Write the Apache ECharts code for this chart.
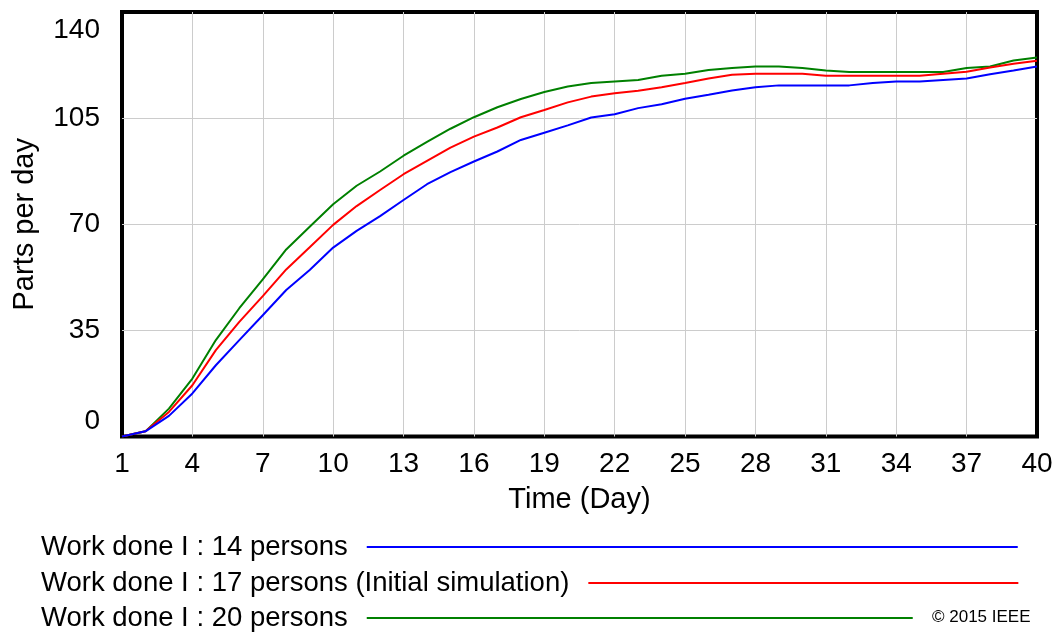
<!DOCTYPE html>
<html>
<head>
<meta charset="utf-8">
<script src="https://cdn.jsdelivr.net/npm/echarts@6/dist/echarts.min.js"></script>
<style>
html, body { margin: 0; padding: 0; background: #fff; }
#chart { width: 1060px; height: 632px; }
</style>
</head>
<body>
<div id="chart"></div>
<script>
// days on the time axis
const days = ['1','2','3','4','5','6','7','8','9','10','11','12','13','14','15','16','17','18','19','20',
    '21','22','23','24','25','26','27','28','29','30','31','32','33','34','35','36','37','38','39','40'];

// parts per day
const persons14 = [0, 1.7, 6.8, 14.2, 23.5, 31.8, 40, 48.3, 54.9, 62.3, 67.8, 72.7, 78, 83.2, 87.2, 90.7, 94, 97.8, 100.2, 102.6,
    105.2, 106.3, 108.3, 109.6, 111.4, 112.7, 114.1, 115.2, 115.8, 115.8, 115.8, 115.8, 116.6, 117.1, 117.1, 117.6, 118.1, 119.5, 120.7, 122];
const persons17 = [0, 1.7, 8.1, 16.9, 28.5, 37.8, 46.3, 55.1, 62.4, 69.8, 76, 81.3, 86.5, 90.9, 95.3, 98.9, 101.9, 105.3, 107.7, 110.2,
    112.1, 113.2, 114, 115.2, 116.6, 118.1, 119.3, 119.6, 119.6, 119.6, 119, 119, 119, 119, 119, 119.6, 120.3, 121.7, 122.9, 123.9];
const persons20 = [0, 1.7, 9.2, 19.1, 31.8, 42.3, 51.8, 61.7, 69.2, 76.6, 82.7, 87.4, 92.6, 97.2, 101.5, 105.3, 108.6, 111.3, 113.6, 115.4,
    116.6, 117.1, 117.6, 119, 119.6, 120.9, 121.5, 122, 122, 121.5, 120.7, 120.2, 120.2, 120.2, 120.2, 120.2, 121.5, 122, 124, 125];

const names = [
    'Work done I : 14 persons',
    'Work done I : 17 persons (Initial simulation)',
    'Work done I : 20 persons'
];

const font = "'Liberation Sans', Arial, Helvetica, sans-serif";
let myChart = echarts.init(document.getElementById('chart'));

// one legend per row so each line can have its own length
const legendRow = (name, top, width) => ({
    left: 41,
    top: top,
    padding: 0,
    align: 'right',
    orient: 'horizontal',
    selectedMode: false,
    itemWidth: width,
    itemHeight: 2,
    itemStyle: { borderWidth: 0 },
    textStyle: { fontSize: 27.5, fontFamily: font, color: '#000', padding: [0, 14, 0, 0] },
    data: [{ name: name, icon: 'rect' }]
});

let option = {
    animation: false,
    backgroundColor: '#fff',
    textStyle: { fontFamily: font },
    title: {
        text: '\u00a9 2015 IEEE',
        left: 932,
        top: 609,
        padding: 0,
        textStyle: { fontSize: 17, fontWeight: 'normal', fontFamily: font, color: '#000' }
    },
    legend: [
        legendRow(names[0], 533, 651),
        legendRow(names[1], 569, 430),
        legendRow(names[2], 604, 546)
    ],
    grid: {
        left: 122,
        right: 23,
        top: 12,
        bottom: 195.5,
        show: true,
        borderColor: '#000',
        borderWidth: 4
    },
    xAxis: {
        type: 'category',
        data: days,
        boundaryGap: false,
        name: 'Time (Day)',
        nameLocation: 'middle',
        nameGap: 49,
        nameTextStyle: { fontSize: 29, fontFamily: font, color: '#000' },
        axisLine: { show: false },
        axisTick: { show: false },
        axisLabel: { interval: 2, fontSize: 28, color: '#000', margin: 14, fontFamily: font },
        splitLine: {
            show: true, interval: 2, showMinLine: false, showMaxLine: false,
            lineStyle: { color: '#cccccc', width: 1 }
        }
    },
    yAxis: {
        type: 'value',
        min: 0,
        max: 140,
        interval: 35,
        name: 'Parts per day',
        nameLocation: 'middle',
        nameRotate: 90,
        nameGap: 83,
        nameTextStyle: { fontSize: 29, fontFamily: font, color: '#000' },
        axisLine: { show: false },
        axisTick: { show: false },
        axisLabel: {
            fontSize: 28,
            color: '#000',
            margin: 22,
            fontFamily: font,
            // top and bottom labels sit inside the frame like the original
            formatter: function (v) {
                if (v === 140) return '{hi|140}';
                if (v === 0) return '{lo|0}';
                return String(v);
            },
            rich: {
                hi: { fontSize: 28, fontFamily: font, color: '#000', padding: [37, 0, 0, 0] },
                lo: { fontSize: 28, fontFamily: font, color: '#000', padding: [0, 0, 31, 0] }
            }
        },
        splitLine: {
            show: true, showMinLine: false, showMaxLine: false,
            lineStyle: { color: '#cccccc', width: 1 }
        }
    },
    series: [
        {
            name: names[2],
            type: 'line',
            data: persons20,
            symbol: 'none',
            color: '#008000',
            lineStyle: { width: 2, color: '#008000' }
        },
        {
            name: names[1],
            type: 'line',
            data: persons17,
            symbol: 'none',
            color: '#ff0000',
            lineStyle: { width: 2, color: '#ff0000' }
        },
        {
            name: names[0],
            type: 'line',
            data: persons14,
            symbol: 'none',
            color: '#0000ff',
            lineStyle: { width: 2, color: '#0000ff' }
        }
    ]
};
option && myChart.setOption(option);
</script>
</body>
</html>
